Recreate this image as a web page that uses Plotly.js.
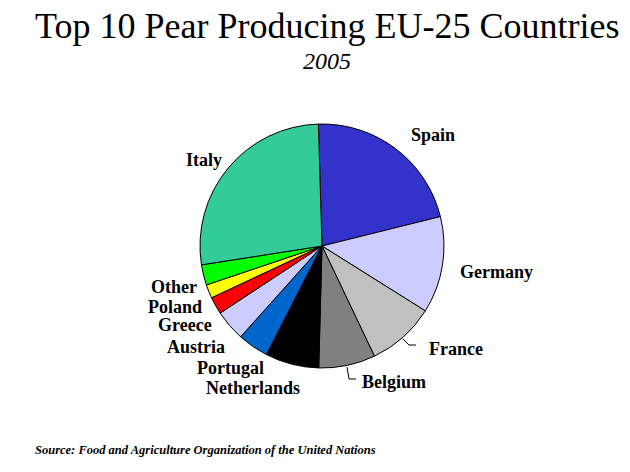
<!DOCTYPE html>
<html>
<head>
<meta charset="utf-8">
<script src="https://cdn.plot.ly/plotly-3.0.1.min.js"></script>
<style>html,body{margin:0;padding:0;background:#fff;}#chart{width:630px;height:472px;}</style>
</head>
<body>
<div id="chart"></div>
<script>
// Share of EU-25 pear production, 2005 (percent)
const countries = ["Spain","Germany","France","Belgium","Netherlands","Portugal","Austria","Greece","Poland","Other","Italy"];
const shares    = [21.6, 12.8, 9.0, 7.5, 7.1, 4.1, 4.1, 2.3, 1.8, 2.7, 27.0];
const colors    = ["#3333CC","#CCCCFF","#C0C0C0","#808080","#000000","#0066CC","#CCCCFF","#FF0000","#FFFF00","#00FF00","#33CC99"];

// label placements (paper px: x center, y center)
const labelPos = {
  Spain:[433,135], Germany:[496,272], France:[456,349], Belgium:[394,382],
  Netherlands:[253,388], Portugal:[230,368], Austria:[196,347], Greece:[185,325],
  Poland:[175,307], Other:[174,287], Italy:[204,160]
};

const W = 630, H = 472;
const px = x => x / W, py = y => 1 - y / H;
const serif = 'Liberation Serif, Times New Roman, serif';

const cx = 322, cy = 246, r = 122;

const annotations = countries.map(c => ({
  text: c, xref: 'paper', yref: 'paper', x: px(labelPos[c][0]), y: py(labelPos[c][1]),
  xanchor: 'center', yanchor: 'middle', showarrow: false, borderpad: 0,
  font: {family: serif, size: 18, color: '#000', weight: 'bold'}
}));
annotations.push({
  text: 'Top 10 Pear Producing EU-25 Countries', xref: 'paper', yref: 'paper',
  x: px(327), y: py(26), xanchor: 'center', yanchor: 'middle', showarrow: false,
  font: {family: serif, size: 36, color: '#000'}
});
annotations.push({
  text: '<i>2005</i>', xref: 'paper', yref: 'paper',
  x: px(327), y: py(61), xanchor: 'center', yanchor: 'middle', showarrow: false,
  font: {family: serif, size: 24, color: '#000'}
});
annotations.push({
  text: '<b><i>Source: Food and Agriculture Organization of the United Nations</i></b>', xref: 'paper', yref: 'paper',
  x: px(33), y: py(450), xanchor: 'left', yanchor: 'middle', showarrow: false,
  font: {family: serif, size: 12.5, color: '#000'}
});

const pathPx = pts => 'M ' + pts.map(p => px(p[0]) + ',' + py(p[1])).join(' L ');
const shapes = [
  {type:'path', xref:'paper', yref:'paper', path: pathPx([[403,339],[409,345],[416,345]]), line:{color:'#000', width:1}},
  {type:'path', xref:'paper', yref:'paper', path: pathPx([[347,367],[349,379],[356,379]]), line:{color:'#000', width:1}}
];

const data = [{
  type: 'pie', labels: countries, values: shares, sort: false, direction: 'clockwise',
  rotation: -1.7, textinfo: 'none', hoverinfo: 'label+percent',
  marker: {colors: colors, line: {color: '#000', width: 1}},
  domain: {x: [px(cx - r), px(cx + r)], y: [py(cy + r), py(cy - r)]},
  showlegend: false
}];

const layout = {
  width: W, height: H, margin: {l:0, r:0, t:0, b:0},
  paper_bgcolor: '#fff', plot_bgcolor: '#fff', showlegend: false,
  annotations: annotations, shapes: shapes
};

Plotly.newPlot('chart', data, layout, {displayModeBar: false, staticPlot: true});
</script>
</body>
</html>
